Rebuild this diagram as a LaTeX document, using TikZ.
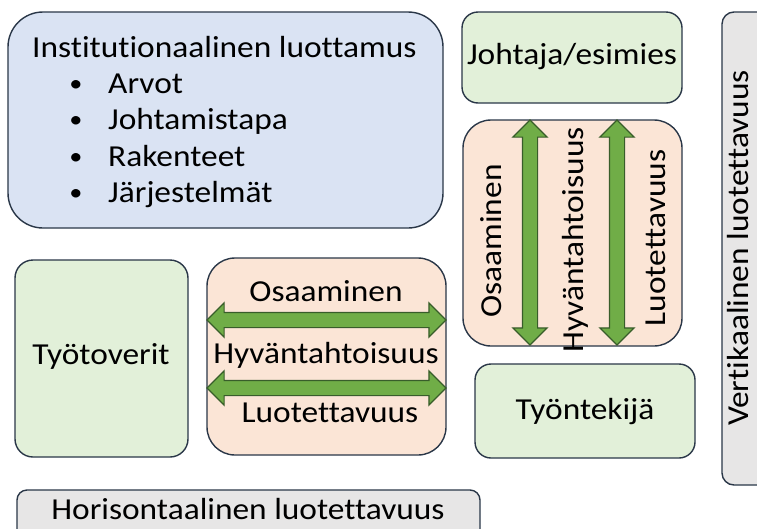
\documentclass[tikz,border=0pt]{standalone}
\usepackage{fontspec}
\setmainfont{Carlito}[FakeStretch=1.095, Ligatures=NoCommon]
\usetikzlibrary{shapes.arrows}
\definecolor{edge}{HTML}{2A3748}
\definecolor{bluefill}{HTML}{DAE3F3}
\definecolor{greenfill}{HTML}{E2F0D9}
\definecolor{pinkfill}{HTML}{FBE5D6}
\definecolor{grayfill}{HTML}{E7E6E6}
\definecolor{arrowfill}{HTML}{70AD47}
\definecolor{arrowedge}{HTML}{385D2A}
\tikzset{
  panel/.style={draw=edge, line width=1.4pt, inner sep=0pt},
  label/.style={inner sep=0pt, font=\fontsize{30.5}{36}\selectfont},
  dblarrow/.style={double arrow, draw=arrowedge, fill=arrowfill, line width=1.2pt,
    inner xsep=0pt, inner ysep=7pt, double arrow head extend=9.5pt,
    double arrow tip angle=90},
}
\begin{document}
\begin{tikzpicture}[x=1pt,y=-1pt]
\useasboundingbox (0,0) rectangle (757,528);
\clip (0,0) rectangle (757,528);
\fill[white] (0,0) rectangle (757,528);

% panels
\draw[panel, fill=bluefill, rounded corners=35pt] (8,12) rectangle (443,228);
\draw[panel, fill=greenfill, rounded corners=16pt] (462,12) rectangle (682,103);
\draw[panel, fill=pinkfill, rounded corners=28pt] (463,120) rectangle (682,346);
\draw[panel, fill=greenfill, rounded corners=16pt] (475,364) rectangle (695,458);
\draw[panel, fill=grayfill, rounded corners=12pt] (722,12) rectangle (790,485);
\draw[panel, fill=greenfill, rounded corners=18pt] (15,260) rectangle (188,457);
\draw[panel, fill=pinkfill, rounded corners=28pt] (207,258) rectangle (446,455);
\draw[panel, fill=grayfill, rounded corners=10pt] (17,490) rectangle (480,550);

% institutional trust
\node[label, anchor=base west] (insttitle) at (32,57) {Institutionaalinen luottamus};
\foreach \y/\t [count=\i] in {93/Arvot, 129/Johtamistapa, 166/Rakenteet, 202/Järjestelmät}{
  \node[label, anchor=base, font=\fontsize{24}{30}\selectfont] (bullet\i) at (76,\y-2) {•};
  \node[label, anchor=base west] (item\i) at (108,\y) {\t};
}

% vertical relation
\node[label] (boss) at (572,57) {Johtaja/esimies};
\node[label] (employee) at (585,412) {Työntekijä};
\node[label, rotate=90] (vosaa) at (491,241) {Osaaminen};
\node[label, rotate=90] (vhyva) at (575,240) {Hyväntahtoisuus};
\node[label, rotate=90] (vluot) at (656,238) {Luotettavuus};
\node[dblarrow, rotate=90, minimum height=225pt] (varrow1) at (530,232.5) {};
\node[dblarrow, rotate=90, minimum height=225pt] (varrow2) at (617,232.5) {};
\node[label, rotate=90] (vertical) at (738,248) {Vertikaalinen luotettavuus};

% horizontal relation
\node[label] (colleagues) at (101,356) {Työtoverit};
\node[label] (hosaa) at (326,291) {Osaaminen};
\node[label] (hhyva) at (326,355) {Hyväntahtoisuus};
\node[label] (hluot) at (330,413) {Luotettavuus};
\node[dblarrow, minimum height=239pt] (harrow1) at (326.5,320) {};
\node[dblarrow, minimum height=239pt] (harrow2) at (326.5,388) {};
\node[label, anchor=base, text depth=0pt] (horizontal) at (248,519) {Horisontaalinen luotettavuus};
\end{tikzpicture}
\end{document}
